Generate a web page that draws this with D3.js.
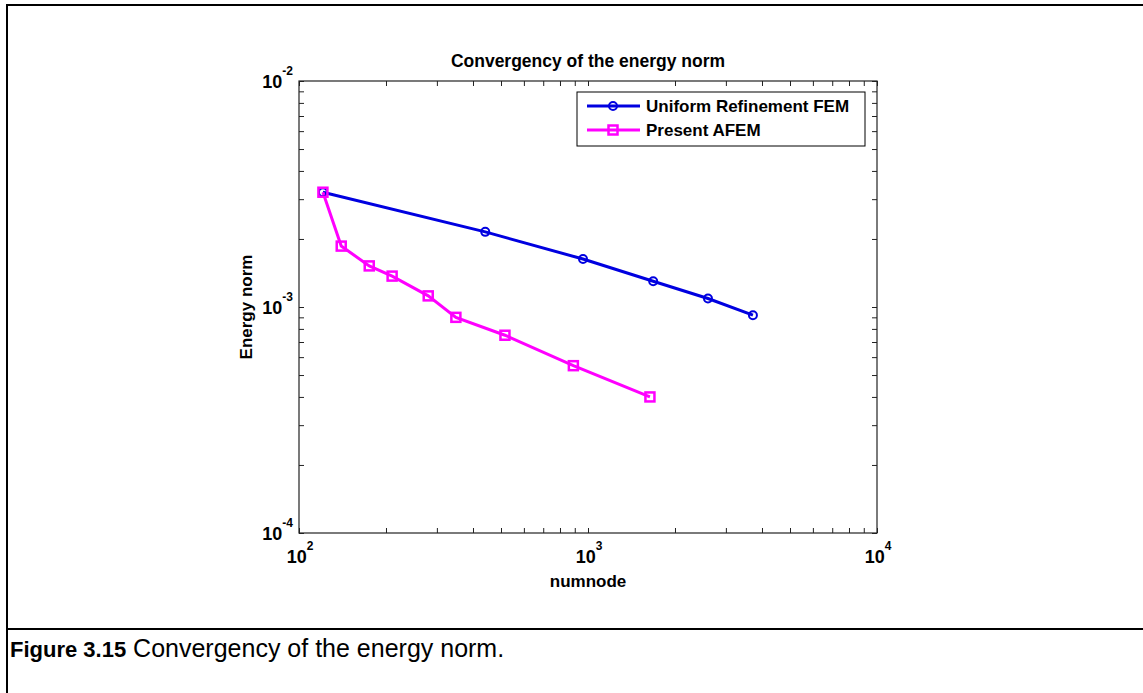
<!DOCTYPE html>
<html>
<head>
<meta charset="utf-8">
<script src="https://cdn.jsdelivr.net/npm/d3@7"></script>
<style>
    body { margin: 0; background: #fff; }
    svg { display: block; font-family: "Liberation Sans", Arial, Helvetica, sans-serif; }
    .tick line { stroke: #222; }
</style>
</head>
<body>
<div id="chart"></div>
<script>
// values
var uniformNodes = [121, 441, 961, 1681, 2601, 3721];
var uniformError = [0.00322, 0.00215, 0.00163, 0.00130, 0.00109, 0.00092];
var afemNodes = [121, 140, 175, 210, 280, 349, 516, 890, 1638];
var afemError = [0.00322, 0.00186, 0.00152, 0.00137, 0.00112, 0.00090, 0.00075, 0.00055, 0.00040];
var seriesNames = ["Uniform Refinement FEM", "Present AFEM"];
var xTickValues = [100, 1000, 10000];
var xTickExp = ["2", "3", "4"];
var yTickValues = [0.0001, 0.001, 0.01];
var yTickExp = ["-4", "-3", "-2"];

(function(){

    var width = 1143, height = 693;
    var left = 299, right = 877, top = 81, bottom = 533;
    var blue = "#0000e0", magenta = "#ff00ff";

    function createChart(){
        var svg = d3.select("#chart").append("svg")
            .attr("width", width)
            .attr("height", height);

        //figure frame + caption divider
        svg.append("path")
            .attr("d", "M7," + (height + 5) + "V5H" + (width + 5))
            .attr("fill", "none")
            .attr("stroke", "#000")
            .attr("stroke-width", 2);
        svg.append("line")
            .attr("x1", 6).attr("x2", width)
            .attr("y1", 629).attr("y2", 629)
            .attr("stroke", "#000")
            .attr("stroke-width", 2);

        //caption
        var caption = svg.append("text")
            .attr("x", 10).attr("y", 657)
            .style("font-size", "25px");
        caption.append("tspan").style("font-weight", "bold").style("font-size", "22px").text("Figure 3.15");
        caption.append("tspan").text(" Convergency of the energy norm.");

        var x = d3.scaleLog().domain([100, 10000]).range([left, right]);
        var y = d3.scaleLog().domain([0.0001, 0.01]).range([bottom, top]);

        drawAxes(svg, x, y);
        drawSeries(svg, x, y);
        drawLegend(svg);
    };

    function drawAxes(svg, x, y){
        var tk = 5;
        //inward ticks on all four sides
        var axes = [
            [d3.axisBottom(x).tickValues(x.ticks()), "translate(0," + bottom + ")"],
            [d3.axisTop(x).tickValues(x.ticks()), "translate(0," + top + ")"],
            [d3.axisLeft(y).tickValues(y.ticks()), "translate(" + left + ",0)"],
            [d3.axisRight(y).tickValues(y.ticks()), "translate(" + right + ",0)"]
        ];
        axes.forEach(function(a){
            var g = svg.append("g")
                .attr("transform", a[1])
                .call(a[0].tickSize(-tk).tickSizeOuter(0).tickFormat(""));
            g.select(".domain").remove();
        });

        svg.append("rect")
            .attr("x", left).attr("y", top)
            .attr("width", right - left).attr("height", bottom - top)
            .attr("fill", "none")
            .attr("stroke", "#222")
            .attr("stroke-width", 1.2);

        //x tick labels 10^n
        svg.selectAll(".xlab")
            .data(xTickValues)
            .enter().append("text")
            .attr("class", "xlab")
            .attr("x", function(d){ return x(d) + 1; })
            .attr("y", bottom + 30)
            .attr("text-anchor", "middle")
            .style("font-size", "18px")
            .style("font-weight", "bold")
            .each(function(d, i){
                var t = d3.select(this);
                t.append("tspan").text("10");
                t.append("tspan").attr("dy", -13).style("font-size", "12px").text(xTickExp[i]);
            });

        //y tick labels 10^-n
        svg.selectAll(".ylab")
            .data(yTickValues)
            .enter().append("text")
            .attr("class", "ylab")
            .attr("x", left - 6)
            .attr("y", function(d){ return y(d) + 7; })
            .attr("text-anchor", "end")
            .style("font-size", "18px")
            .style("font-weight", "bold")
            .each(function(d, i){
                var t = d3.select(this);
                t.append("tspan").text("10");
                t.append("tspan").attr("dy", -13).style("font-size", "12px").text(yTickExp[i]);
            });

        svg.append("text")
            .attr("x", (left + right) / 2)
            .attr("y", 67)
            .attr("text-anchor", "middle")
            .style("font-size", "17.5px")
            .style("font-weight", "bold")
            .text("Convergency of the energy norm");

        svg.append("text")
            .attr("x", (left + right) / 2)
            .attr("y", 587)
            .attr("text-anchor", "middle")
            .style("font-size", "17px")
            .style("font-weight", "bold")
            .text("numnode");

        svg.append("text")
            .attr("transform", "translate(252," + ((top + bottom) / 2) + ") rotate(-90)")
            .attr("text-anchor", "middle")
            .style("font-size", "17px")
            .style("font-weight", "bold")
            .text("Energy norm");
    };

    function drawSeries(svg, x, y){
        var line = d3.line()
            .x(function(d){ return x(d[0]); })
            .y(function(d){ return y(d[1]); });

        var uni = d3.zip(uniformNodes, uniformError);
        var afem = d3.zip(afemNodes, afemError);

        svg.append("path")
            .datum(uni)
            .attr("d", line)
            .attr("fill", "none")
            .attr("stroke", blue)
            .attr("stroke-width", 3);
        svg.append("path")
            .datum(afem)
            .attr("d", line)
            .attr("fill", "none")
            .attr("stroke", magenta)
            .attr("stroke-width", 3);

        svg.selectAll(".uni")
            .data(uni)
            .enter().append("circle")
            .attr("class", "uni")
            .attr("cx", function(d){ return x(d[0]); })
            .attr("cy", function(d){ return y(d[1]); })
            .attr("r", 4)
            .attr("fill", "none")
            .attr("stroke", blue)
            .attr("stroke-width", 2);

        svg.selectAll(".afem")
            .data(afem)
            .enter().append("rect")
            .attr("class", "afem")
            .attr("x", function(d){ return x(d[0]) - 4.5; })
            .attr("y", function(d){ return y(d[1]) - 4.5; })
            .attr("width", 9).attr("height", 9)
            .attr("fill", "none")
            .attr("stroke", magenta)
            .attr("stroke-width", 2.5);
    };

    function drawLegend(svg){
        var lg = svg.append("g");
        lg.append("rect")
            .attr("x", 577).attr("y", 92)
            .attr("width", 288).attr("height", 54)
            .attr("fill", "#fff")
            .attr("stroke", "#000")
            .attr("stroke-width", 1);

        var colors = [blue, magenta];
        seriesNames.forEach(function(name, i){
            var ly = 106 + i * 24;
            lg.append("line")
                .attr("x1", 587).attr("x2", 640)
                .attr("y1", ly).attr("y2", ly)
                .attr("stroke", colors[i])
                .attr("stroke-width", 3);
            if (i === 0){
                lg.append("circle")
                    .attr("cx", 613).attr("cy", ly).attr("r", 4)
                    .attr("fill", "none").attr("stroke", blue).attr("stroke-width", 2);
            } else {
                lg.append("rect")
                    .attr("x", 608.5).attr("y", ly - 4.5).attr("width", 9).attr("height", 9)
                    .attr("fill", "none").attr("stroke", magenta).attr("stroke-width", 2.5);
            }
            lg.append("text")
                .attr("x", 646).attr("y", ly + 6)
                .style("font-size", "17px")
                .style("font-weight", "bold")
                .text(name);
        });
    };

    createChart();
}) ();
</script>
</body>
</html>
